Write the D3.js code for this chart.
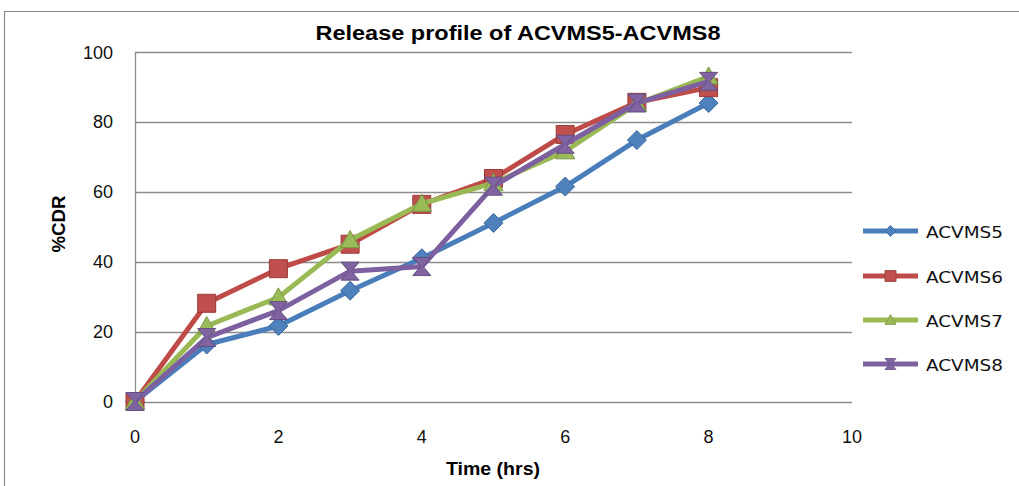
<!DOCTYPE html>
<html>
<head>
<meta charset="utf-8">
<script src="https://cdn.jsdelivr.net/npm/d3@7"></script>
<style>
  body { margin: 0; background: #fff; }
  svg { display: block; }
</style>
</head>
<body>
<svg id="chart" width="1019" height="486"></svg>
<script>
// data
const hours = [0, 1, 2, 3, 4, 5, 6, 7, 8];
const acvms5 = [0, 16.3, 21.6, 31.7, 41.0, 51.1, 61.5, 74.8, 85.4];
const acvms6 = [0, 28.1, 38.0, 45.0, 56.4, 63.8, 76.4, 85.6, 89.8];
const acvms7 = [0, 21.6, 29.8, 46.2, 56.6, 62.5, 71.6, 85.2, 93.0];
const acvms8 = [0, 18.3, 26.0, 37.3, 38.6, 61.6, 73.6, 85.4, 91.6];
const seriesNames = ['ACVMS5', 'ACVMS6', 'ACVMS7', 'ACVMS8'];
const xTicks = [0, 2, 4, 6, 8, 10];
const yTicks = [0, 20, 40, 60, 80, 100];

const seriesValues = [acvms5, acvms6, acvms7, acvms8];
const styles = [
  { line: '#4A7EBB', fill: '#4F81BD', edge: '#3A679C', shape: 'diamond' },
  { line: '#BE4B48', fill: '#C0504D', edge: '#9A3B38', shape: 'square' },
  { line: '#98B954', fill: '#9BBB59', edge: '#7A9645', shape: 'triangle' },
  { line: '#7D60A0', fill: '#8064A2', edge: '#654E82', shape: 'hourglass' },
];

const svg = d3.select('#chart');
const x = d3.scaleLinear().domain([0, 10]).range([135, 852]);
const y = d3.scaleLinear().domain([0, 100]).range([401.5, 52]);

// outer chart frame
svg.append('path')
  .attr('d', 'M4.5,486 L4.5,11.5 L1019,11.5')
  .attr('fill', 'none')
  .attr('stroke', '#8a8a8a')
  .attr('stroke-width', 1.2);

// title
svg.append('text')
  .attr('x', 518).attr('y', 40)
  .attr('text-anchor', 'middle')
  .attr('font-family', 'Liberation Sans, Arial, sans-serif')
  .attr('font-weight', 'bold')
  .attr('font-size', 20)
  .attr('textLength', 405)
  .attr('lengthAdjust', 'spacingAndGlyphs')
  .text('Release profile of ACVMS5-ACVMS8');

// horizontal grid lines
svg.append('g')
  .selectAll('line')
  .data(yTicks)
  .join('line')
  .attr('x1', x(0)).attr('x2', x(10))
  .attr('y1', (d) => Math.round(y(d)) + 0.5)
  .attr('y2', (d) => Math.round(y(d)) + 0.5)
  .attr('stroke', '#8c8c8c')
  .attr('stroke-width', 1.3);

// y axis line
svg.append('line')
  .attr('x1', x(0) + 0.5).attr('x2', x(0) + 0.5)
  .attr('y1', y(100)).attr('y2', y(0))
  .attr('stroke', '#8c8c8c')
  .attr('stroke-width', 1.3);

const tickFont = 'Liberation Sans, Arial, sans-serif';

svg.append('g')
  .selectAll('text')
  .data(yTicks)
  .join('text')
  .attr('x', 113)
  .attr('y', (d) => y(d) + 6.5)
  .attr('text-anchor', 'end')
  .attr('font-family', tickFont)
  .attr('font-size', 18)
  .attr('fill', '#111')
  .text((d) => d);

svg.append('g')
  .selectAll('text')
  .data(xTicks)
  .join('text')
  .attr('x', (d) => x(d))
  .attr('y', 443)
  .attr('text-anchor', 'middle')
  .attr('font-family', tickFont)
  .attr('font-size', 18)
  .attr('fill', '#111')
  .text((d) => d);

// axis titles
svg.append('text')
  .attr('x', 493).attr('y', 475)
  .attr('text-anchor', 'middle')
  .attr('font-family', tickFont)
  .attr('font-weight', 'bold')
  .attr('font-size', 19)
  .attr('textLength', 94)
  .attr('lengthAdjust', 'spacingAndGlyphs')
  .text('Time (hrs)');

svg.append('text')
  .attr('transform', 'translate(65,224) rotate(-90)')
  .attr('text-anchor', 'middle')
  .attr('font-family', tickFont)
  .attr('font-weight', 'bold')
  .attr('font-size', 18)
  .attr('textLength', 57)
  .attr('lengthAdjust', 'spacingAndGlyphs')
  .text('%CDR');

function markerPath(shape, s) {
  const h = s / 2;
  if (shape === 'diamond') return `M0,${-h}L${h},0L0,${h}L${-h},0Z`;
  if (shape === 'square') return `M${-h},${-h}H${h}V${h}H${-h}Z`;
  if (shape === 'triangle') return `M0,${-h}L${h},${h * 0.8}L${-h},${h * 0.8}Z`;
  // hourglass-like star marker
  return `M${-h},${-h}H${h}L${h * 0.15},0L${h},${h}H${-h}L${-h * 0.15},0Z`;
}
const markerSize = { diamond: 19, square: 18, triangle: 19, hourglass: 18 };

const line = d3.line()
  .x((d) => x(d[0]))
  .y((d) => y(d[1]));

seriesValues.forEach((vals, i) => {
  const st = styles[i];
  const pts = hours.map((h, j) => [h, vals[j]]);
  const g = svg.append('g');
  g.append('path')
    .datum(pts)
    .attr('d', line)
    .attr('fill', 'none')
    .attr('stroke', st.line)
    .attr('stroke-width', 5)
    .attr('stroke-linejoin', 'round');
  g.selectAll('path.mk')
    .data(pts)
    .join('path')
    .attr('class', 'mk')
    .attr('transform', (d) => `translate(${x(d[0])},${y(d[1])})`)
    .attr('d', markerPath(st.shape, markerSize[st.shape]))
    .attr('fill', st.fill)
    .attr('stroke', st.edge)
    .attr('stroke-width', 1);
});

// legend
const legendY = [231, 276, 320, 364];
const legend = svg.append('g');
seriesNames.forEach((name, i) => {
  const st = styles[i];
  const ly = legendY[i];
  legend.append('line')
    .attr('x1', 863).attr('x2', 918)
    .attr('y1', ly).attr('y2', ly)
    .attr('stroke', st.line)
    .attr('stroke-width', 5);
  legend.append('path')
    .attr('transform', `translate(890.5,${ly})`)
    .attr('d', markerPath(st.shape, 11))
    .attr('fill', st.fill)
    .attr('stroke', st.edge)
    .attr('stroke-width', 0.8);
  legend.append('text')
    .attr('x', 926).attr('y', ly + 6.5)
    .attr('font-family', 'DejaVu Sans, Verdana, sans-serif')
    .attr('font-size', 16.5)
    .attr('fill', '#111')
    .attr('textLength', 77)
    .attr('lengthAdjust', 'spacingAndGlyphs')
    .text(name);
});
</script>
</body>
</html>
